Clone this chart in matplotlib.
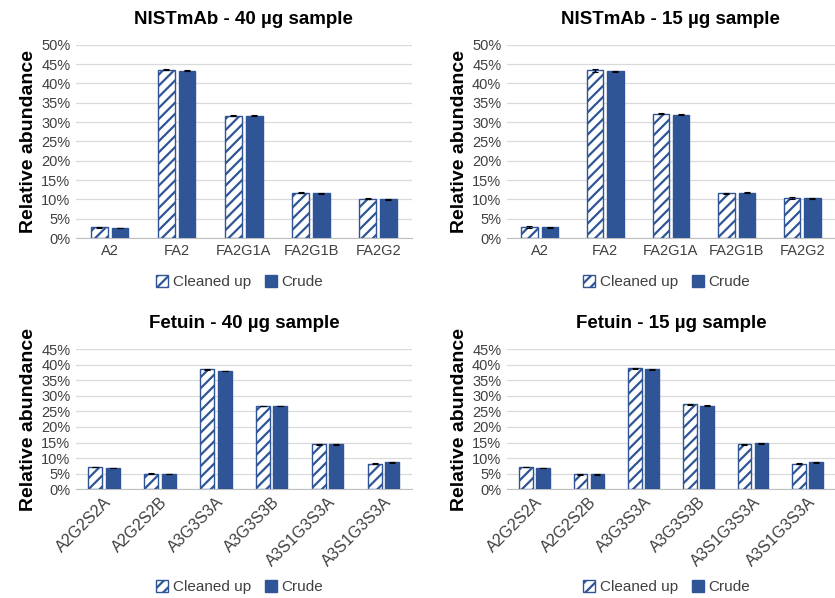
import matplotlib.pyplot as plt
import numpy as np
from matplotlib.ticker import PercentFormatter

plt.rcParams['font.family'] = ['Liberation Sans', 'DejaVu Sans']
plt.rcParams['hatch.linewidth'] = 1.6

blue = '#2F5597'

# NISTmAb glycans
mab_labels = ['A2', 'FA2', 'FA2G1A', 'FA2G1B', 'FA2G2']
mab40_clean = [2.8, 43.6, 31.7, 11.7, 10.2]
mab40_crude = [2.6, 43.3, 31.7, 11.6, 10.0]
mab40_clean_err = [0.1, 0.15, 0.1, 0.1, 0.1]
mab40_crude_err = [0.1, 0.1, 0.1, 0.1, 0.1]
mab15_clean = [2.9, 43.4, 32.2, 11.6, 10.3]
mab15_crude = [2.8, 43.2, 31.9, 11.7, 10.3]
mab15_clean_err = [0.2, 0.3, 0.1, 0.1, 0.2]
mab15_crude_err = [0.1, 0.1, 0.1, 0.1, 0.1]

# Fetuin glycans
fet_labels = ['A2G2S2A', 'A2G2S2B', 'A3G3S3A', 'A3G3S3B', 'A3S1G3S3A', 'A3S1G3S3A']
fet40_clean = [7.1, 5.0, 38.6, 26.8, 14.4, 8.25]
fet40_crude = [6.75, 4.9, 38.0, 26.8, 14.5, 8.6]
fet40_clean_err = [0.1, 0.1, 0.15, 0.1, 0.15, 0.1]
fet40_crude_err = [0.1, 0.1, 0.15, 0.1, 0.15, 0.1]
fet15_clean = [7.1, 4.8, 38.9, 27.3, 14.5, 8.25]
fet15_crude = [6.75, 4.8, 38.6, 26.9, 14.7, 8.6]
fet15_clean_err = [0.1, 0.1, 0.15, 0.1, 0.15, 0.1]
fet15_crude_err = [0.1, 0.1, 0.15, 0.1, 0.15, 0.1]

fig = plt.figure(figsize=(8.35, 5.98), dpi=100)


def draw(rect, title, labels, clean, crude, clean_err, crude_err, ymax, rot,
         title_y, leg_y):
    ax = fig.add_axes(rect)
    x = np.arange(len(labels))
    w = 0.25
    ax.bar(x - 0.155, clean, w, color='white', edgecolor=blue, hatch='///',
           linewidth=1.0, label='Cleaned up', zorder=3)
    ax.bar(x + 0.155, crude, w, color=blue, edgecolor=blue, linewidth=1.0,
           label='Crude', zorder=3)
    ax.errorbar(x - 0.155, clean, yerr=clean_err, fmt='none', ecolor='black',
                elinewidth=0.8, capsize=2.5, capthick=0.8, zorder=4)
    ax.errorbar(x + 0.155, crude, yerr=crude_err, fmt='none', ecolor='black',
                elinewidth=0.8, capsize=2.5, capthick=0.8, zorder=4)
    ax.set_xlim(-0.5, len(labels) - 0.5)
    ax.set_ylim(0, ymax)
    ax.set_yticks(np.arange(0, ymax + 1, 5))
    ax.yaxis.set_major_formatter(PercentFormatter(decimals=0))
    ax.grid(axis='y', color='#D9D9D9', linewidth=0.9, zorder=0)
    for s in ['top', 'right', 'left']:
        ax.spines[s].set_visible(False)
    ax.spines['bottom'].set_color('#BFBFBF')
    ax.tick_params(axis='both', length=0, labelsize=10.5, colors='#404040',
                   pad=4)
    ax.set_xticks(x)
    if rot:
        ax.set_xticklabels(labels, rotation=45, ha='right',
                           rotation_mode='anchor', fontsize=11.5)
    else:
        ax.set_xticklabels(labels)
    ax.set_ylabel('Relative abundance', fontsize=14, fontweight='bold',
                  color='black', labelpad=3)
    fig.text(rect[0] + rect[2] / 2, title_y, title, ha='center', va='center',
             fontsize=13.5, fontweight='bold')
    leg = fig.legend(*ax.get_legend_handles_labels(), loc='center',
                     bbox_to_anchor=(rect[0] + rect[2] / 2 - 0.005, leg_y),
                     ncol=2, frameon=False, fontsize=11, handlelength=0.8,
                     handleheight=0.8, handletextpad=0.3, columnspacing=0.9)
    for t in leg.get_texts():
        t.set_color('#404040')
    return ax


draw([0.091, 0.602, 0.402, 0.323], 'NISTmAb - 40 µg sample', mab_labels,
     mab40_clean, mab40_crude, mab40_clean_err, mab40_crude_err, 50, False,
     1 - 20 / 598, 1 - 282 / 598)
draw([0.607, 0.602, 0.393, 0.323], 'NISTmAb - 15 µg sample', mab_labels,
     mab15_clean, mab15_crude, mab15_clean_err, mab15_crude_err, 50, False,
     1 - 20 / 598, 1 - 282 / 598)
draw([0.091, 0.182, 0.402, 0.234], 'Fetuin - 40 µg sample', fet_labels,
     fet40_clean, fet40_crude, fet40_clean_err, fet40_crude_err, 45, True,
     1 - 324 / 598, 1 - 587 / 598)
draw([0.607, 0.182, 0.393, 0.234], 'Fetuin - 15 µg sample', fet_labels,
     fet15_clean, fet15_crude, fet15_clean_err, fet15_crude_err, 45, True,
     1 - 324 / 598, 1 - 587 / 598)

fig.savefig('out.png', dpi=100)
